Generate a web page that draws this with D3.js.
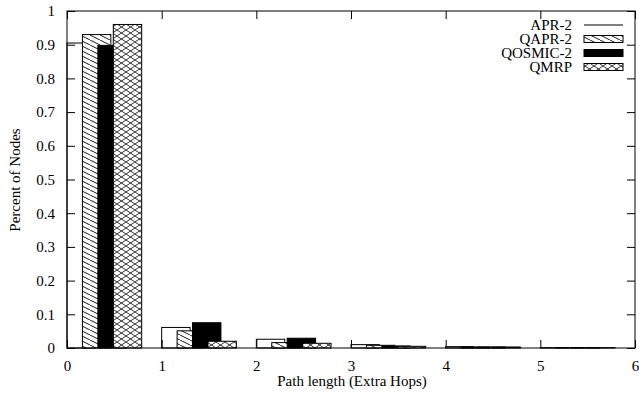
<!DOCTYPE html>
<html>
<head>
<meta charset="utf-8">
<script src="https://cdn.jsdelivr.net/npm/d3@7"></script>
<style>
  body { margin: 0; background: #fff; }
  text { font-family: "Liberation Serif", "Times New Roman", serif; font-size: 15px; fill: #000; }
</style>
</head>
<body>
<svg id="chart" width="639" height="395"></svg>
<script>
// data
const hops = [0, 1, 2, 3, 4, 5];
const apr2 = [0.905, 0.061, 0.026, 0.010, 0.004, 0.001];
const qapr2 = [0.930, 0.051, 0.016, 0.008, 0.003, 0.001];
const qosmic2 = [0.898, 0.075, 0.029, 0.006, 0.003, 0.001];
const qmrp = [0.960, 0.020, 0.014, 0.005, 0.003, 0.001];
const seriesNames = ["APR-2", "QAPR-2", "QOSMIC-2", "QMRP"];
const xTicks = [0, 1, 2, 3, 4, 5, 6];
const yTicks = [0, 0.1, 0.2, 0.3, 0.4, 0.5, 0.6, 0.7, 0.8, 0.9, 1];

const series = [apr2, qapr2, qosmic2, qmrp];
const fills = ["#fff", "url(#hatch)", "#000", "url(#cross)"];
const mL = 67, mR = 635, mT = 11, mB = 348;
const barW = 0.3, step = 0.163;

const svg = d3.select("#chart");
const defs = svg.append("defs");

// diagonal hatch (\\\)
const h = defs.append("pattern").attr("id", "hatch")
  .attr("patternUnits", "userSpaceOnUse").attr("width", 10).attr("height", 5);
h.append("rect").attr("width", 10).attr("height", 5).attr("fill", "#fff");
h.append("path").attr("d", "M0,0 L10,5 M-10,0 L0,5 M10,0 L20,5")
  .attr("stroke", "#000").attr("stroke-width", 0.9);

// dense crosshatch
const c = defs.append("pattern").attr("id", "cross")
  .attr("patternUnits", "userSpaceOnUse").attr("width", 9).attr("height", 6);
c.append("rect").attr("width", 9).attr("height", 6).attr("fill", "#fff");
c.append("path").attr("d", "M0,0 L9,6 M0,6 L9,0")
  .attr("stroke", "#000").attr("stroke-width", 0.8);

const x = d3.scaleLinear().domain([0, 6]).range([mL, mR]);
const y = d3.scaleLinear().domain([0, 1]).range([mB, mT]);

// bars, one series after another so later ones overlap earlier ones
series.forEach((vals, i) => {
  svg.append("g").selectAll("rect")
    .data(hops.map((hp, k) => ({ hp, v: vals[k] })))
    .enter().append("rect")
    .attr("x", d => x(d.hp + i * step))
    .attr("width", d => x(d.hp + i * step + barW) - x(d.hp + i * step))
    .attr("y", d => y(d.v))
    .attr("height", d => y(0) - y(d.v))
    .attr("fill", fills[i])
    .attr("stroke", "#000")
    .attr("stroke-width", 1);
});

// frame
svg.append("rect").attr("x", mL).attr("y", mT)
  .attr("width", mR - mL).attr("height", mB - mT)
  .attr("fill", "none").attr("stroke", "#000").attr("stroke-width", 1);

// axes (ticks drawn inward, mirrored)
const tk = 8;
const xAxis = svg.append("g").attr("transform", `translate(0,${mB})`)
  .call(d3.axisBottom(x).tickValues(xTicks).tickSize(-tk).tickPadding(12).tickFormat(d3.format("d")));
const xTop = svg.append("g").attr("transform", `translate(0,${mT})`)
  .call(d3.axisTop(x).tickValues(xTicks).tickSize(-tk).tickFormat(""));
const yAxis = svg.append("g").attr("transform", `translate(${mL},0)`)
  .call(d3.axisLeft(y).tickValues(yTicks).tickSize(-tk).tickPadding(12).tickFormat(d => d === 0 || d === 1 ? d : d.toFixed(1)));
const yRight = svg.append("g").attr("transform", `translate(${mR},0)`)
  .call(d3.axisRight(y).tickValues(yTicks).tickSize(-tk).tickFormat(""));
[xAxis, xTop, yAxis, yRight].forEach(g => {
  g.select(".domain").remove();
  g.selectAll("line").attr("stroke", "#000");
  g.selectAll("text").attr("font-size", null).attr("font-family", null);
});

// axis titles
svg.append("text").attr("x", (mL + mR) / 2 + 1).attr("y", 386)
  .attr("text-anchor", "middle").text("Path length (Extra Hops)");
svg.append("text").attr("transform", "translate(20,180) rotate(-90)")
  .attr("text-anchor", "middle").text("Percent of Nodes");

// legend
const lg = svg.append("g");
seriesNames.forEach((name, i) => {
  const cy = 25 + i * 14;
  lg.append("text").attr("x", 572).attr("y", cy + 5).attr("text-anchor", "end").text(name);
  if (i === 0) {
    lg.append("line").attr("x1", 584).attr("x2", 623).attr("y1", cy).attr("y2", cy)
      .attr("stroke", "#000");
  } else {
    lg.append("rect").attr("x", 584).attr("y", cy - 3.5).attr("width", 39).attr("height", 7)
      .attr("fill", fills[i]).attr("stroke", "#000");
  }
});
</script>
</body>
</html>
